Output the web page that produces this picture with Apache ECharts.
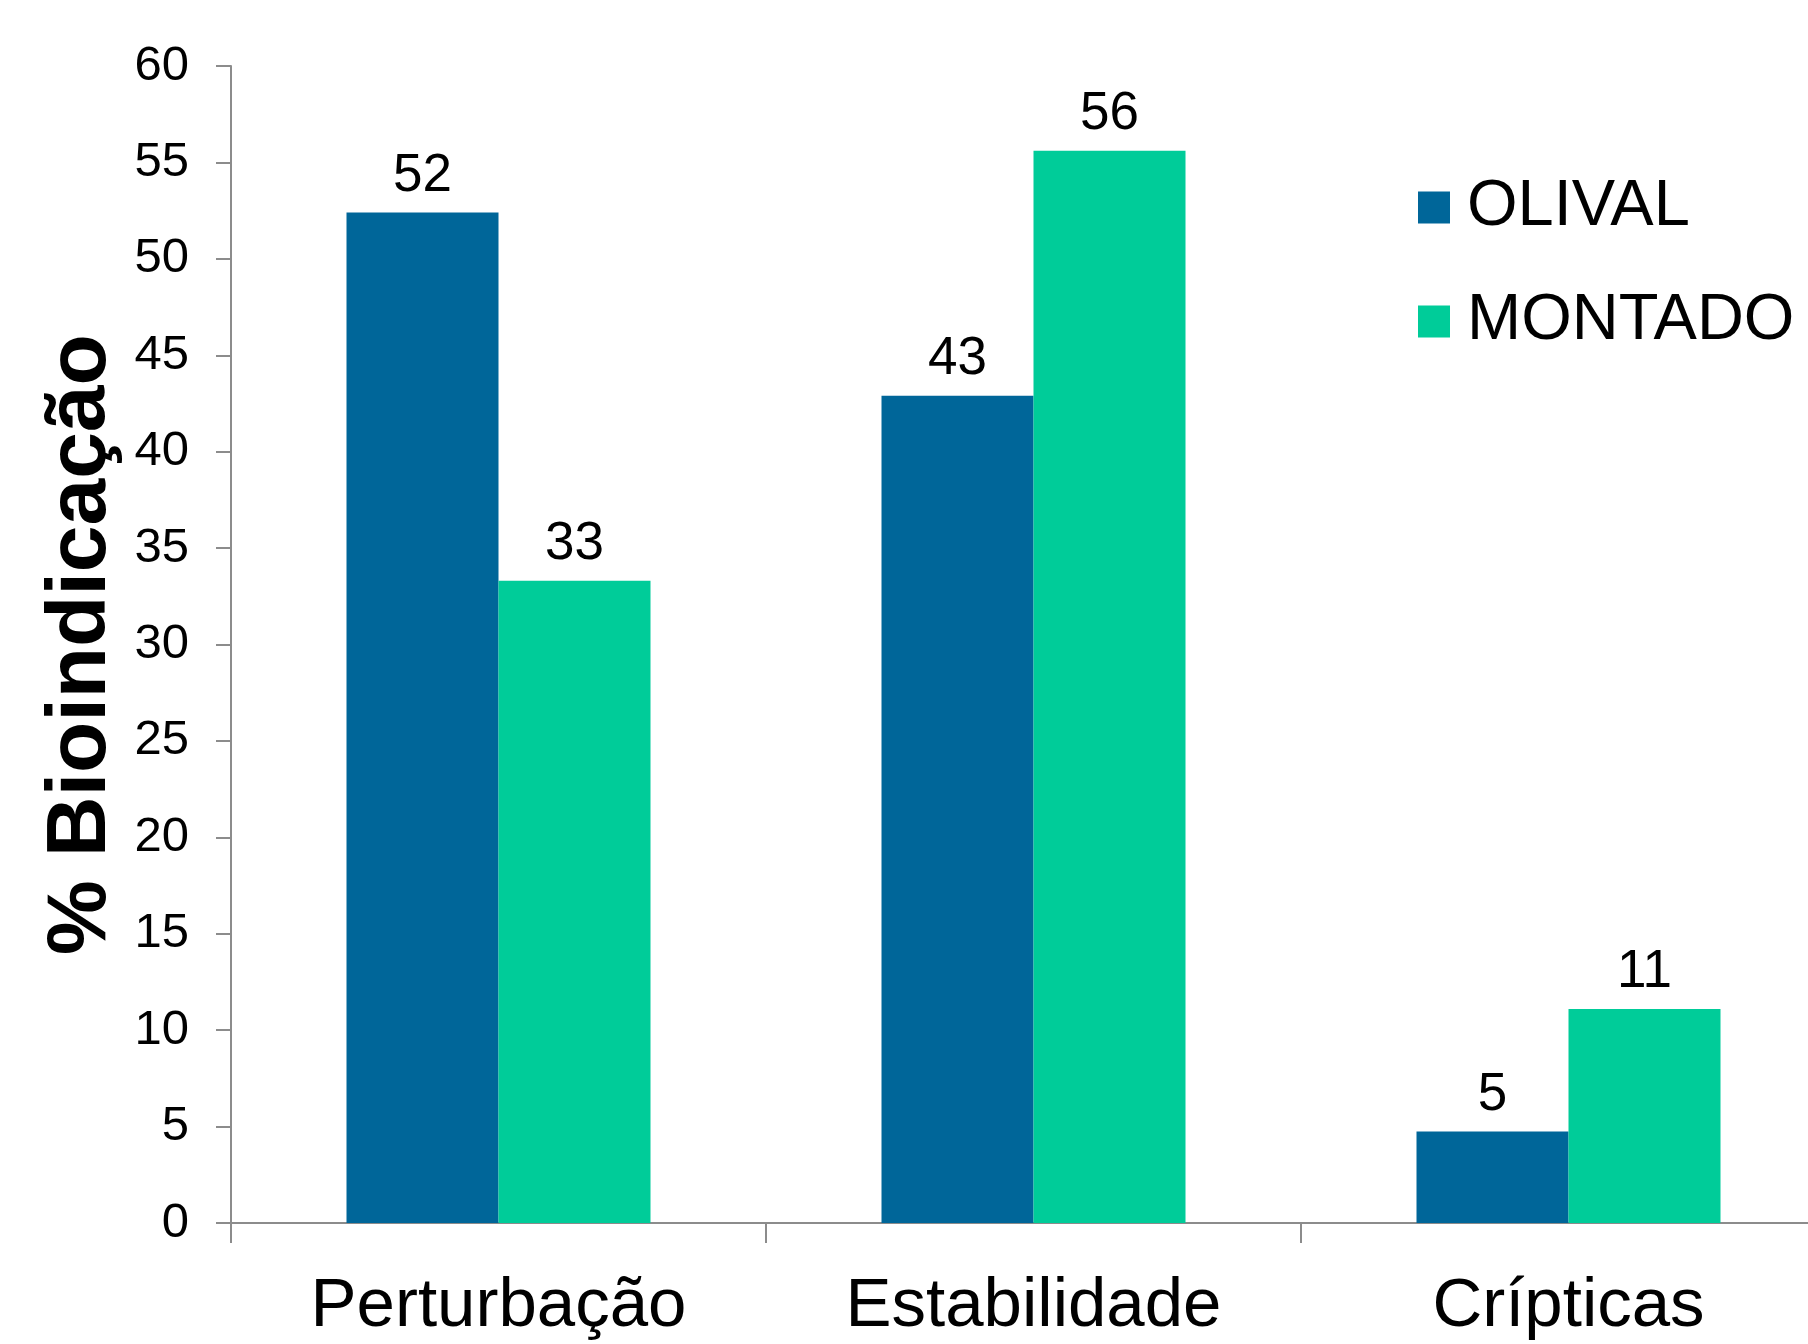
<!DOCTYPE html>
<html>
<head>
<meta charset="utf-8">
<script src="https://cdn.jsdelivr.net/npm/echarts@6/dist/echarts.min.js"></script>
<style>
  html, body { margin: 0; padding: 0; background: #fff; overflow: hidden; }
  /* a bit wider than the window: the last category runs off the right edge */
  #chart { width: 1840px; height: 1344px; }
</style>
</head>
<body>
<div id="chart"></div>
<script>
// values
const categories = ['Perturbação', 'Estabilidade', 'Crípticas'];
const olival = [52.4, 42.9, 4.75];
const montado = [33.3, 55.6, 11.1];
const yTicks = [0, 60, 5]; // min, max, step

const font = '"Liberation Sans", Arial, sans-serif';
const axisGrey = '#8c8c8c';

const chart = echarts.init(document.getElementById('chart'));

const labelStyle = {
    show: true,
    position: 'top',
    distance: 10,
    color: '#000',
    fontFamily: font,
    fontSize: 53,
    formatter: p => Math.round(p.value)
};

chart.setOption({
    animation: false,
    textStyle: {fontFamily: font},
    grid: {
        left: 231,
        top: 66,
        bottom: 121,
        width: 1605,
        containLabel: false
    },
    legend: {
        orient: 'vertical',
        left: 1413,
        top: 170,
        itemWidth: 32,
        itemHeight: 32,
        itemGap: 49,
        icon: 'rect',
        textStyle: {fontSize: 65, color: '#000', fontFamily: font, padding: [0, 0, 0, 12]},
        data: ['OLIVAL', 'MONTADO']
    },
    xAxis: {
        type: 'category',
        data: categories,
        axisLine: {lineStyle: {color: axisGrey, width: 2}},
        axisTick: {show: true, length: 20, lineStyle: {color: axisGrey, width: 2}},
        axisLabel: {color: '#000', fontSize: 69, fontFamily: font, margin: 49}
    },
    yAxis: {
        type: 'value',
        min: yTicks[0],
        max: yTicks[1],
        interval: yTicks[2],
        name: '% Bioindicação',
        nameLocation: 'middle',
        nameGap: 106,
        nameRotate: 90,
        nameTextStyle: {fontSize: 84, fontWeight: 'bold', color: '#000', fontFamily: font},
        axisLine: {show: true, lineStyle: {color: axisGrey, width: 2}},
        axisTick: {show: true, length: 15, lineStyle: {color: axisGrey, width: 2}},
        axisLabel: {color: '#000', fontSize: 49, fontFamily: font, margin: 42},
        splitLine: {show: false}
    },
    series: [
        {
            name: 'OLIVAL',
            type: 'bar',
            data: olival,
            barWidth: 152,
            barGap: '0%',
            itemStyle: {color: '#006699'},
            label: labelStyle
        },
        {
            name: 'MONTADO',
            type: 'bar',
            data: montado,
            barWidth: 152,
            barGap: '0%',
            itemStyle: {color: '#00cc99'},
            label: labelStyle
        }
    ]
});
</script>
</body>
</html>
